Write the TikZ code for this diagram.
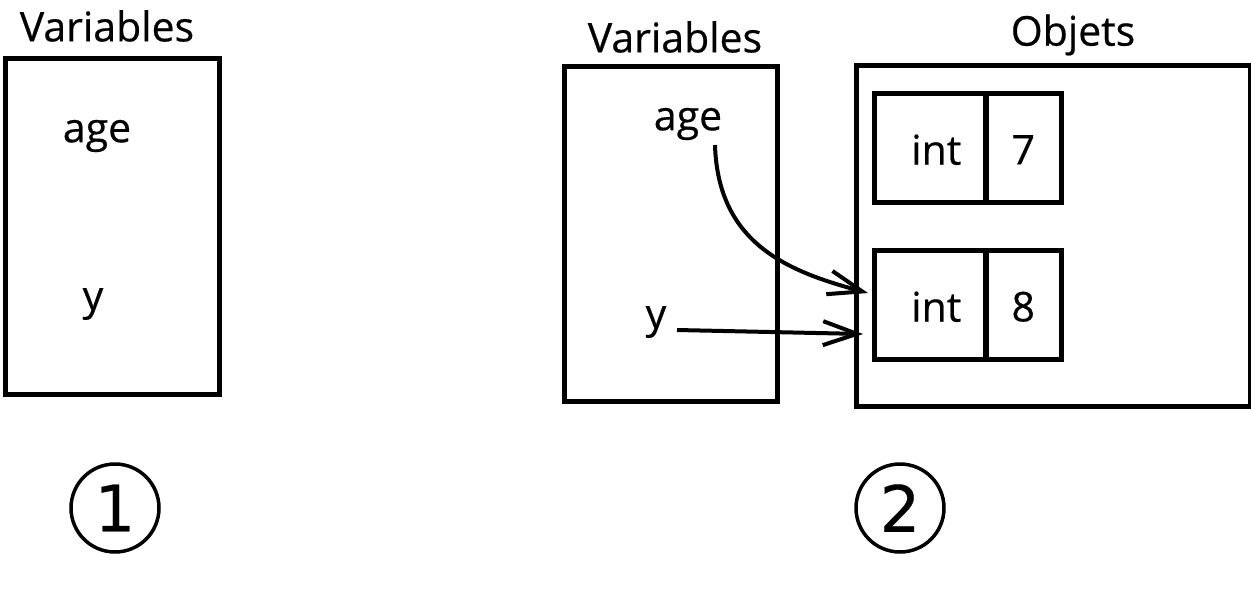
\documentclass[tikz,border=0pt]{standalone}
\usepackage{fontspec}
\setmainfont{Open Sans}[FakeBold=0.5]
\newfontfamily\digitfont{DejaVu Sans}[FakeBold=0.3]
\usetikzlibrary{arrows.meta}
\begin{document}
\begin{tikzpicture}[x=1pt,y=-1pt,
  box/.style={draw,line width=4.5pt},
  lbl/.style={font=\fontsize{41}{46}\selectfont,inner sep=0pt},
  num/.style={draw,circle,line width=3.5pt,minimum size=88pt,inner sep=0pt,font=\digitfont\fontsize{64}{66}\selectfont},
  ptr/.style={line width=4pt,-{Straight Barb[length=34pt,width=24pt,line width=4pt]}}]
\useasboundingbox (0,0) rectangle (1251,592);
% panel 1
\node[box,minimum width=214pt,minimum height=336pt,anchor=north west] (v1) at (3,56) {};
\node[lbl] (t1) at (107,26) {Variables};
\node[lbl] (age1) at (97,136) {age};
\node[lbl] (y1) at (93,304) {y};
\node[num] (c1) at (115,508) {1};
% panel 2
\node[box,minimum width=213pt,minimum height=335pt,anchor=north west] (v2) at (562,64) {};
\node[lbl] (t2) at (675,37) {Variables};
\node[lbl] (age2) at (688,124) {age};
\node[lbl] (y2) at (656,322) {y};
\node[box,minimum width=394pt,minimum height=341pt,anchor=north west] (obj) at (854,63) {};
\node[lbl] (t3) at (1073,35) {Objets};
\node[box,minimum width=112pt,minimum height=109pt,anchor=north west] (i1) at (872,91) {};
\node[box,minimum width=76pt,minimum height=109pt,anchor=north west] (v7) at (983,91) {};
\node[lbl] at ([xshift=6pt,yshift=-2pt]i1.center) {int};
\node[lbl] at ([yshift=-2pt]v7.center) {7};
\node[box,minimum width=112pt,minimum height=109pt,anchor=north west] (i2) at (872,248) {};
\node[box,minimum width=76pt,minimum height=109pt,anchor=north west] (v8) at (983,248) {};
\node[lbl] at ([xshift=6pt,yshift=-2pt]i2.center) {int};
\node[lbl] at ([yshift=-2pt]v8.center) {8};
\node[num] (c2) at (900,508) {2};
% pointers
\coordinate (a0) at (715,145);
\coordinate (a1) at (868,293);
\coordinate (b0) at (677,330);
\coordinate (b1) at (863,334);
\draw[ptr] (a0) .. controls (718,245) and (790,272) .. (a1);
\draw[ptr] (b0) -- (b1);
\end{tikzpicture}
\end{document}
